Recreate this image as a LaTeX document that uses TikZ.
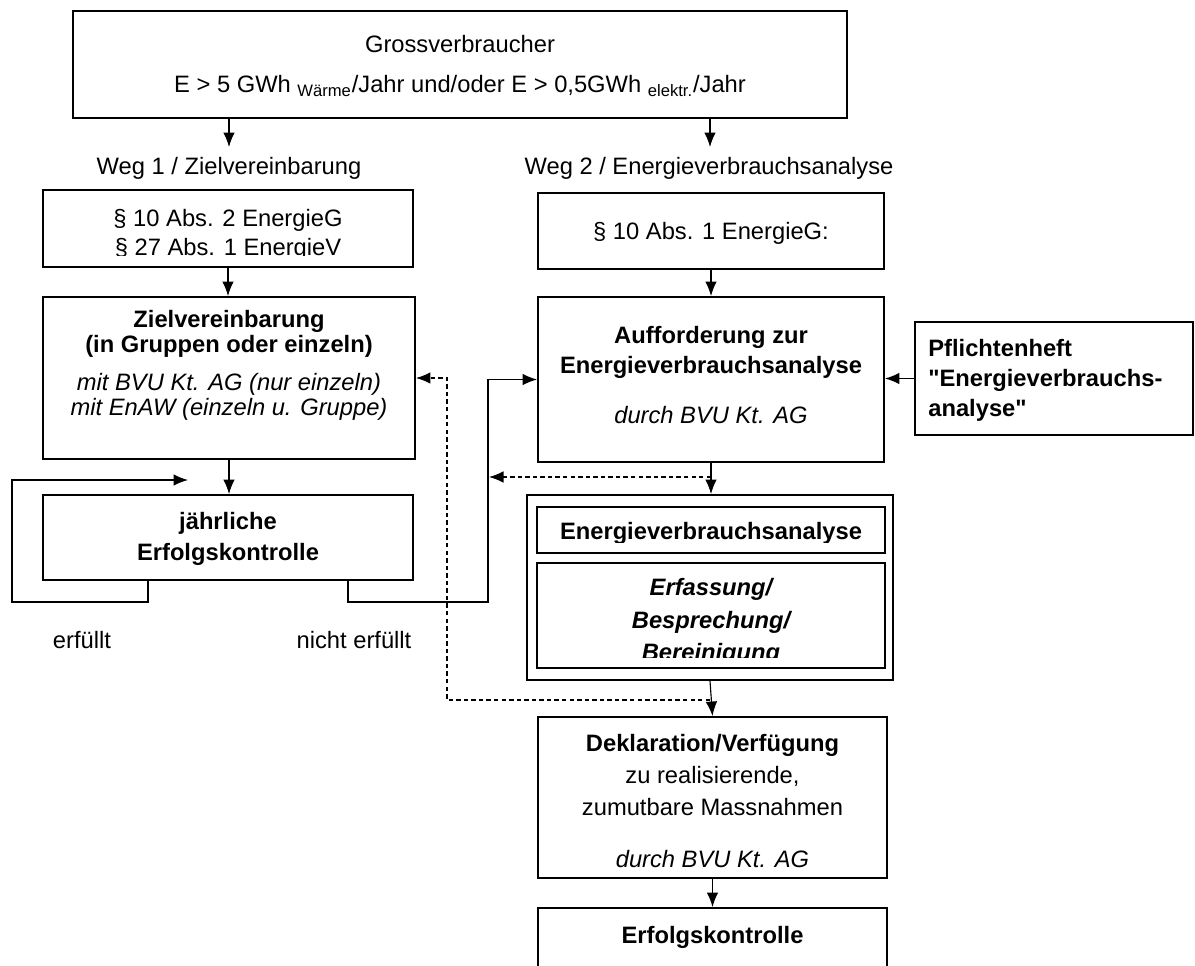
\documentclass[tikz,border=0pt]{standalone}
\usepackage{fontspec}
\setmainfont{Liberation Sans}
\usetikzlibrary{arrows.meta}

\begin{document}
\begin{tikzpicture}[x=0.2mm,y=-0.2mm,>={Latex[length=2.9mm,width=2.3mm]},
    box/.style={draw,line width=1.1pt,inner sep=0pt},
    txt/.style={inner sep=0pt,align=center,font=\fontsize{13.5}{17}\selectfont},
    link/.style={->,line width=0.65pt},
    back/.style={->,line width=0.65pt,dash pattern=on 2.5pt off 1.8pt}]

  \useasboundingbox (0,0) rectangle (1195,965);
  \clip (0,0) rectangle (1195,965);

  % boxes
  \node[box,minimum width=154.8mm,minimum height=21.4mm] (gross) at (460,64.5) {};
  \node[box,minimum width=74mm,minimum height=15.4mm] (abs2) at (228,228.5) {};
  \node[box,minimum width=74.4mm,minimum height=32.4mm] (ziel) at (229,378) {};
  \node[box,minimum width=74mm,minimum height=17mm] (jahr) at (228,537.5) {};
  \node[box,minimum width=69.2mm,minimum height=15.2mm] (abs1) at (711,231) {};
  \node[box,minimum width=69.2mm,minimum height=33mm] (auff) at (711,379.5) {};
  \node[box,minimum width=55.6mm,minimum height=22.6mm] (pflicht) at (1054,378.5) {};
  \node[box,minimum width=73.2mm,minimum height=37mm] (eva) at (710,587.5) {};
  \node[box,minimum width=69.6mm,minimum height=9.2mm] (evahead) at (711,530) {};
  \node[box,minimum width=69.6mm,minimum height=21mm] (evabody) at (711,615.5) {};
  \node[box,minimum width=69.8mm,minimum height=32.2mm] (dekl) at (712.5,797.5) {};
  \node[box,minimum width=69.8mm,minimum height=20.4mm] (erfolg) at (712.5,959) {};

  % texts
  \node[txt,font=\fontsize{13.5}{22.7}\selectfont] (grosstxt) at (460,66)
    {Grossverbraucher\\E > 5 GWh \textsubscript{Wärme}/Jahr und/oder E > 0,5GWh \textsubscript{elektr.}/Jahr};
  \node[txt] (weg1) at (229,168) {Weg 1 / Zielvereinbarung};
  \node[txt] (weg2) at (709,168) {Weg 2 / Energieverbrauchsanalyse};
  \begin{scope}
    \clip (abs2.north west) rectangle ([yshift=2.4mm]abs2.south east);
    \node[txt,font=\fontsize{13.5}{16.5}\selectfont] (abs2txt) at (228,234.5)
      {§ 10 Abs. 2 EnergieG\\§ 27 Abs. 1 EnergieV};
  \end{scope}
  \node[txt,font=\fontsize{13.5}{14}\selectfont] (zieltxt) at (229,365.5)
    {\textbf{Zielvereinbarung}\\\textbf{(in Gruppen oder einzeln)}\\[8pt]
     \textit{mit BVU Kt. AG (nur einzeln)}\\\textit{mit EnAW (einzeln u. Gruppe)}};
  \node[txt,font=\fontsize{13.5}{17.6}\selectfont\bfseries] (jahrtxt) at (228,539)
    {jährliche\\Erfolgskontrolle};
  \node[txt] (abs1txt) at (711,233) {§ 10 Abs. 1 EnergieG:};
  \node[txt] (aufftxt) at (711,375)
    {\textbf{Aufforderung zur}\\\textbf{Energieverbrauchsanalyse}\\[11.4pt]\textit{durch BVU Kt. AG}};
  \node[txt,align=left,anchor=west,font=\fontsize{13.5}{17}\selectfont\bfseries] (pflichttxt) at (928,380)
    {Pflichtenheft\\\textquotedbl Energieverbrauchs-\\analyse\textquotedbl};
  \begin{scope}
    \clip (evahead.north west) rectangle ([yshift=2.2mm]evahead.south east);
    \node[txt,font=\fontsize{13.5}{17}\selectfont\bfseries] (evaheadtxt) at (711,533)
      {Energieverbrauchsanalyse};
  \end{scope}
  \begin{scope}
    \clip (evabody.north west) rectangle ([yshift=2.2mm]evabody.south east);
    \node[txt,font=\fontsize{13.5}{18.4}\selectfont\bfseries\itshape] (evabodytxt) at (711,622)
      {Erfassung/\\Besprechung/\\Bereinigung};
  \end{scope}
  \node[txt,font=\fontsize{13.5}{18}\selectfont] (dekltxt) at (712.5,801)
    {\textbf{Deklaration/Verfügung}\\zu realisierende,\\zumutbare Massnahmen\\[11.5pt]\textit{durch BVU Kt. AG}};
  \node[txt,font=\fontsize{13.5}{17}\selectfont\bfseries] (erfolgtxt) at (712.5,937) {Erfolgskontrolle};
  \node[txt] (erfuellt) at (82,640) {erfüllt};
  \node[txt] (nichterfuellt) at (354,640) {nicht erfüllt};

  % free ends and bends
  \coordinate (in1) at (229,147);
  \coordinate (in2) at (710,147);
  \coordinate (loopl) at (12,602);
  \coordinate (loopin) at (188,480);
  \coordinate (loopr) at (488,602);
  \coordinate (retour) at (489,477);
  \coordinate (back2) at (447,700);

  % connectors
  \draw[link] (gross.south -| in1) -- (in1);
  \draw[link] (gross.south -| in2) -- (in2);
  \draw[link] (abs2.south) -- (abs2.south |- ziel.north);
  \draw[link] (ziel.south) -- (ziel.south |- jahr.north);
  \draw[link] ([xshift=-16mm]jahr.south) |- (loopl) |- (loopin);
  \draw[link] ([xshift=24mm]jahr.south) |- (loopr) |- (auff.west);
  \draw[link] (abs1.south) -- (auff.north);
  \draw[link] (pflicht.west) -- (pflicht.west -| auff.east);
  \draw[link] (auff.south) -- (auff.south |- eva.north);
  \draw[back] (retour -| auff.south) -- (retour);
  \draw[link] (eva.south) -- (dekl.north);
  \draw[back] (back2 -| eva.south) -| (back2 |- ziel.east) -- (ziel.east);
  \draw[link] (dekl.south) -- (erfolg.north);
\end{tikzpicture}
\end{document}
